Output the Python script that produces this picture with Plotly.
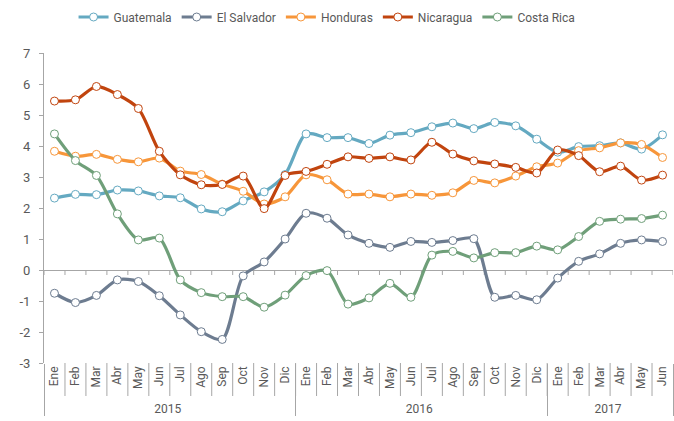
import plotly.graph_objects as go

months = ["Ene", "Feb", "Mar", "Abr", "May", "Jun", "Jul", "Ago", "Sep", "Oct", "Nov", "Dic"]
years = ["2015"] * 12 + ["2016"] * 12 + ["2017"] * 6
month_labels = months + months + months[:6]

y_ticks = [-3, -2, -1, 0, 1, 2, 3, 4, 5, 6, 7]
y_tick_text = ["-3", "-2", "-1", "0", "1", "2", "3", "4", "5", "6", "7"]

guatemala = [2.32, 2.44, 2.43, 2.58, 2.55, 2.39, 2.33, 1.97, 1.88, 2.23, 2.52, 3.08,
             4.39, 4.27, 4.27, 4.08, 4.35, 4.43, 4.62, 4.74, 4.56, 4.76, 4.65, 4.22,
             3.80, 3.98, 4.01, 4.10, 3.90, 4.36]
el_salvador = [-0.75, -1.05, -0.82, -0.32, -0.37, -0.83, -1.45, -1.99, -2.24, -0.19, 0.26, 1.00,
               1.83, 1.67, 1.13, 0.86, 0.73, 0.92, 0.89, 0.95, 1.01, -0.88, -0.82, -0.96,
               -0.26, 0.28, 0.52, 0.86, 0.97, 0.92]
honduras = [3.83, 3.67, 3.73, 3.57, 3.49, 3.61, 3.19, 3.08, 2.77, 2.54, 2.13, 2.36,
            3.07, 2.91, 2.45, 2.45, 2.36, 2.45, 2.41, 2.49, 2.89, 2.81, 3.03, 3.33,
            3.45, 3.85, 3.94, 4.10, 4.05, 3.63]
nicaragua = [5.45, 5.49, 5.92, 5.66, 5.21, 3.83, 3.07, 2.75, 2.76, 3.03, 1.98, 3.05,
             3.18, 3.41, 3.65, 3.60, 3.65, 3.55, 4.12, 3.74, 3.52, 3.42, 3.31, 3.13,
             3.87, 3.69, 3.17, 3.35, 2.90, 3.06]
costa_rica = [4.39, 3.53, 3.05, 1.81, 0.97, 1.03, -0.32, -0.73, -0.86, -0.86, -1.20, -0.81,
              -0.18, -0.02, -1.10, -0.90, -0.43, -0.88, 0.48, 0.60, 0.39, 0.56, 0.56, 0.77,
              0.65, 1.08, 1.57, 1.64, 1.66, 1.77]

series = [
    ("Guatemala", guatemala, "#64a9c1"),
    ("El Salvador", el_salvador, "#6d7c90"),
    ("Honduras", honduras, "#f7963a"),
    ("Nicaragua", nicaragua, "#c1440e"),
    ("Costa Rica", costa_rica, "#6f9f79"),
]

FONT = "Roboto, Liberation Sans Narrow, sans-serif"
TXT = "#595959"
AX = "#a6a6a6"

fig = go.Figure()
for name, vals, col in series:
    fig.add_trace(go.Scatter(
        x=[years, month_labels], y=vals, name=name, mode="lines+markers",
        line=dict(color=col, width=3.2, shape="spline", smoothing=0.8),
        marker=dict(symbol="circle", size=8, color="white", line=dict(color=col, width=1)),
    ))

n = len(month_labels)
# small tick marks on the zero line at category boundaries
for i in range(n + 1):
    fig.add_shape(type="line", xref="x", yref="y", x0=i - 0.5, x1=i - 0.5,
                  ysizemode="pixel", yanchor=0, y0=0, y1=-5,
                  line=dict(color=AX, width=1), layer="below")
# month separators in the category label band
for i in range(1, n):
    fig.add_shape(type="line", xref="x", yref="paper", x0=i - 0.5, x1=i - 0.5,
                  ysizemode="pixel", yanchor=0, y0=0, y1=-33,
                  line=dict(color=AX, width=1), layer="below")

fig.update_layout(
    width=674, height=421,
    margin=dict(l=44, r=1, t=53, b=58),
    paper_bgcolor="white", plot_bgcolor="white",
    font=dict(family=FONT, size=13, color=TXT),
    showlegend=True,
    legend=dict(orientation="h", x=0.45, xanchor="center", y=1 - 17 / 421, yanchor="middle",
                yref="container", font=dict(size=12, color=TXT),
                itemwidth=30, tracegroupgap=0),
    xaxis=dict(
        type="multicategory", range=[-0.5, 29.5], automargin=False,
        showgrid=False, showline=False, zeroline=False,
        ticks="", tickangle=-90, tickfont=dict(size=12, color=TXT),
        showdividers=True, dividercolor=AX, dividerwidth=1,
    ),
    yaxis=dict(
        range=[-3, 7], tickvals=y_ticks, ticktext=y_tick_text, automargin=False,
        showgrid=False, showline=True, linecolor=AX, linewidth=1,
        ticks="outside", ticklen=4, tickcolor=AX, ticklabelstandoff=6,
        zeroline=True, zerolinecolor=AX, zerolinewidth=1,
        tickfont=dict(size=13, color=TXT),
    ),
)

fig.write_html("out.html", config={"displayModeBar": False},
               post_script="document.body.style.margin='0';")
